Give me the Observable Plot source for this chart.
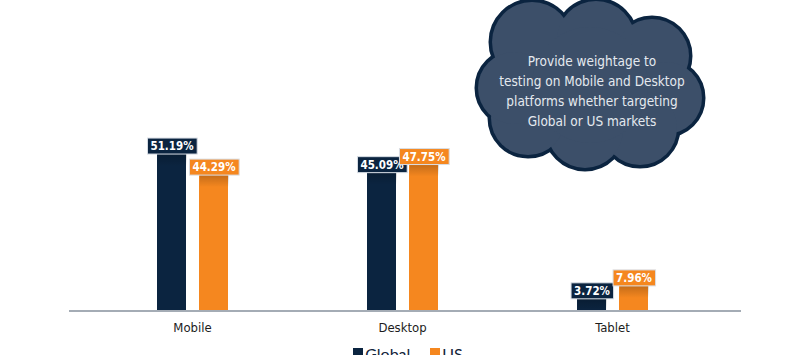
<!DOCTYPE html>
<html>
<head>
<meta charset="utf-8">
<script src="https://cdn.jsdelivr.net/npm/d3@7"></script>
<script src="https://cdn.jsdelivr.net/npm/@observablehq/plot@0.6"></script>
<style>
  html, body { margin: 0; padding: 0; background: #ffffff; }
  #chart { width: 810px; position: relative; }
  #chart svg { display: block; }
  .legend { display: flex; justify-content: center; align-items: center; height: 20px; line-height: 20px;
            font-family: Lato, "Open Sans", sans-serif; font-size: 16px; color: #13243a; margin-left: 6px; margin-top: -1px; }
  .legend .item { display: flex; align-items: center; margin: 0 10px; }
  .legend .sw { width: 10px; height: 12px; margin-right: 2px; display: inline-block; }
</style>
</head>
<body>
<div id="chart"></div>
<script>
// ---- data ----
const platforms = ["Mobile", "Desktop", "Tablet"];
const seriesNames = ["Global", "US"];
const globalValues = [51.19, 45.09, 3.72];
const usValues = [44.29, 47.75, 7.96];
const seriesColors = ["#0b2440", "#f5871f"];
const calloutLines = ["Provide weightage to", "testing on Mobile and Desktop", "platforms whether targeting", "Global or US markets"];

const data = platforms.flatMap((p, i) => [
  {platform: p, series: "Global", value: globalValues[i]},
  {platform: p, series: "US", value: usValues[i]}
]);

const narrow = '"Liberation Sans Narrow", "DejaVu Sans Condensed", "Arial Narrow", sans-serif';

const chart = Plot.plot({
  width: 810,
  height: 345,
  marginTop: 5,
  marginBottom: 35,
  marginLeft: 87,
  marginRight: 93,
  style: {fontFamily: narrow, fontSize: "13px", color: "#1c1c1c", background: "transparent"},
  facet: {data, x: "platform"},
  fx: {domain: platforms, padding: 0, label: null, tickSize: 0, tickPadding: 12},
  x: {domain: seriesNames, paddingInner: 0.31, paddingOuter: 1.655, axis: null},
  y: {domain: [0, 100], axis: null},
  color: {domain: seriesNames, range: seriesColors},
  marks: [
    Plot.barY(data, {x: "series", y: "value", fill: "series"}),
    Plot.text(data, {x: "series", y: "value", text: d => d.value.toFixed(2) + "%", fill: "series",
      dy: -8, lineAnchor: "middle", fontWeight: "bold", fontSize: 11.5, letterSpacing: "-0.2px"})
  ]
});

const root = document.getElementById("chart");
root.appendChild(chart);

// legend
const legend = document.createElement("div");
legend.className = "legend";
seriesNames.forEach((s, i) => {
  const item = document.createElement("span");
  item.className = "item";
  item.innerHTML = `<span class="sw" style="background:${seriesColors[i]}"></span><span>${s}</span>`;
  legend.appendChild(item);
});
root.appendChild(legend);

const svgNode = chart.tagName.toLowerCase() === "svg" ? chart : chart.querySelector("svg");
const svg = d3.select(svgNode);
const NS = "http://www.w3.org/2000/svg";
const barWidth = chart.scale("x").bandwidth;

// shadow gradient under label boxes
const defs = svg.insert("defs", ":first-child");
const grad = defs.append("linearGradient").attr("id", "boxShadow").attr("x1", 0).attr("x2", 0).attr("y1", 0).attr("y2", 1);
grad.append("stop").attr("offset", "0%").attr("stop-color", "#000").attr("stop-opacity", 0.2);
grad.append("stop").attr("offset", "100%").attr("stop-color", "#000").attr("stop-opacity", 0);

// value label boxes
const labelTexts = Array.from(svgNode.querySelectorAll("text")).filter(t => /%$/.test(t.textContent.trim()));
labelTexts.forEach(node => {
  const col = node.getAttribute("fill") || getComputedStyle(node).fill;
  const bb = node.getBBox();
  const h = 16, w = bb.width + 6;
  const cx = bb.x + bb.width / 2, cy = bb.y + bb.height / 2;
  const tr = node.getAttribute("transform");
  const shadow = document.createElementNS(NS, "rect");
  shadow.setAttribute("x", cx - barWidth / 2);
  shadow.setAttribute("y", cy + h / 2);
  shadow.setAttribute("width", barWidth);
  shadow.setAttribute("height", 12);
  shadow.setAttribute("fill", "url(#boxShadow)");
  const rect = document.createElementNS(NS, "rect");
  rect.setAttribute("x", cx - w / 2);
  rect.setAttribute("y", cy - h / 2);
  rect.setAttribute("width", w);
  rect.setAttribute("height", h);
  rect.setAttribute("fill", col);
  rect.setAttribute("stroke", "#d9dee5");
  rect.setAttribute("stroke-width", 1);
  if (tr) { rect.setAttribute("transform", tr); shadow.setAttribute("transform", tr); }
  node.parentNode.insertBefore(shadow, node);
  node.parentNode.insertBefore(rect, node);
  node.setAttribute("fill", "#ffffff");
});

// baseline axis
const yS = chart.scale("y"), fxS = chart.scale("fx");
const y0 = yS.apply(0);
svg.append("line")
  .attr("x1", fxS.range[0] - 18).attr("x2", fxS.range[1] + 24)
  .attr("y1", y0 + 1).attr("y2", y0 + 1)
  .attr("stroke", "#a4acb5").attr("stroke-width", 2);

// callout cloud
const lobes = [[532,42,40],[596,40,39],[652,56,37],[666,98,36],[640,128,37],[585,130,38],[528,118,37],[514,88,36],[590,85,58]];
const cloud = svg.append("g");
cloud.selectAll("circle.o").data(lobes).join("circle").attr("class", "o")
  .attr("cx", d => d[0]).attr("cy", d => d[1]).attr("r", d => d[2])
  .attr("fill", "#0b2440").attr("stroke", "#0b2440").attr("stroke-width", 7);
cloud.selectAll("circle.i").data(lobes).join("circle").attr("class", "i")
  .attr("cx", d => d[0]).attr("cy", d => d[1]).attr("r", d => d[2])
  .attr("fill", "#3c4f69");
cloud.append("text")
  .attr("text-anchor", "middle")
  .attr("font-family", narrow).attr("font-size", 13.5).attr("fill", "#e4e9ef")
  .selectAll("tspan").data(calloutLines).join("tspan")
  .attr("x", 592).attr("y", (d, i) => 66 + i * 20).text(d => d);
</script>
</body>
</html>
